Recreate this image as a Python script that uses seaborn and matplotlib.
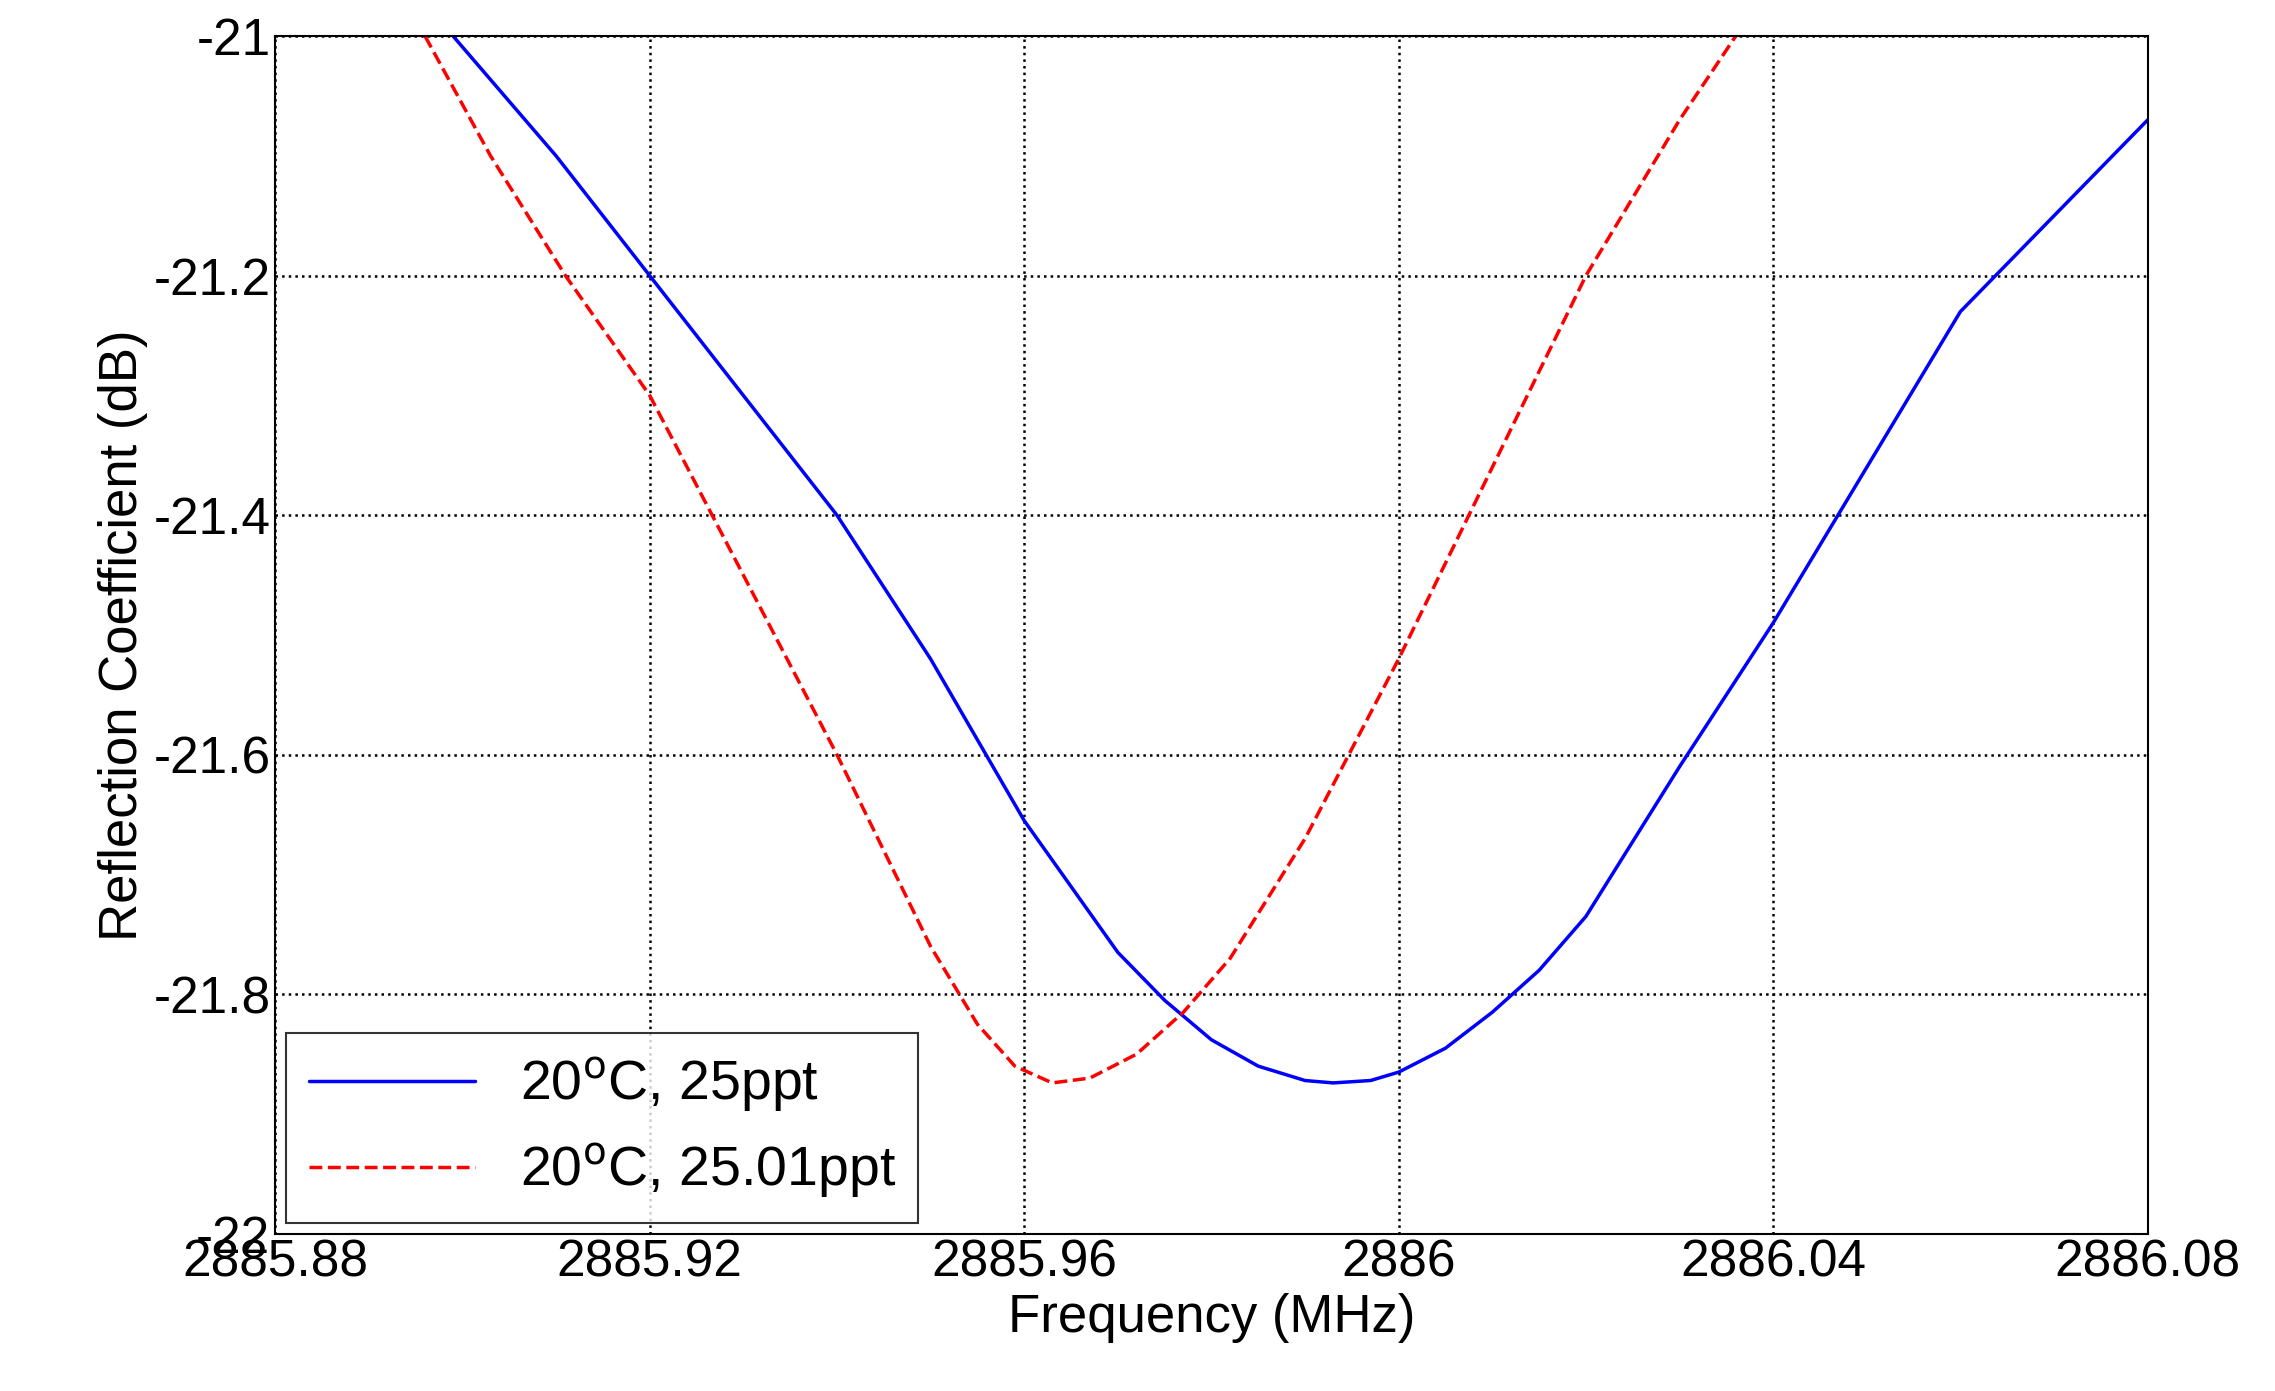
import matplotlib
matplotlib.use('Agg')
import matplotlib.pyplot as plt
import seaborn as sns
import pandas as pd

sns.set_style("white")
plt.rcParams["font.family"] = ["Liberation Sans", "DejaVu Sans"]

# ==== Data ====
freq_a = [2885.899, 2885.91, 2885.92, 2885.93, 2885.94, 2885.95, 2885.96, 2885.965,
          2885.97, 2885.975, 2885.98, 2885.985, 2885.99, 2885.993, 2885.997, 2886.0,
          2886.005, 2886.01, 2886.015, 2886.02, 2886.03, 2886.04,
          2886.05, 2886.06, 2886.07, 2886.08]
refl_a = [-21.0, -21.1, -21.2, -21.3, -21.4, -21.52, -21.655, -21.71,
          -21.765, -21.805, -21.838, -21.86, -21.872, -21.874, -21.872, -21.865,
          -21.845, -21.815, -21.78, -21.735, -21.61, -21.49,
          -21.36, -21.23, -21.15, -21.07]

freq_b = [2885.896, 2885.903, 2885.911, 2885.92, 2885.93, 2885.94, 2885.95, 2885.955,
          2885.959, 2885.963, 2885.967, 2885.972, 2885.977, 2885.982, 2885.99, 2886.0,
          2886.01, 2886.02, 2886.03, 2886.036]
refl_b = [-21.0, -21.1, -21.2, -21.3, -21.45, -21.6, -21.76, -21.825,
          -21.86, -21.874, -21.87, -21.85, -21.815, -21.77, -21.67, -21.52,
          -21.36, -21.2, -21.07, -21.0]

df_a = pd.DataFrame({"f": freq_a, "r": refl_a})
df_b = pd.DataFrame({"f": freq_b, "r": refl_b})

fig = plt.figure(figsize=(22.75, 13.91), dpi=100)
ax = fig.add_axes([0.121, 0.113, 0.823, 0.861])

sns.lineplot(data=df_a, x="f", y="r", ax=ax, color="blue", lw=2.5,
             label="20$^{\\mathrm{o}}$C, 25ppt", sort=False)
sns.lineplot(data=df_b, x="f", y="r", ax=ax, color="red", lw=2.5, ls="--",
             label="20$^{\\mathrm{o}}$C, 25.01ppt", sort=False)

ax.set_xlim(2885.88, 2886.08)
ax.set_ylim(-22, -21)
ax.set_xticks([2885.88, 2885.92, 2885.96, 2886.0, 2886.04, 2886.08])
ax.set_xticklabels(["2885.88", "2885.92", "2885.96", "2886", "2886.04", "2886.08"])
ax.set_yticks([-22, -21.8, -21.6, -21.4, -21.2, -21])
ax.set_yticklabels(["-22", "-21.8", "-21.6", "-21.4", "-21.2", "-21"])
ax.tick_params(labelsize=37, direction="in", length=8, colors="black")
ax.grid(True, color="black", ls=":", lw=1.8)
for s in ax.spines.values():
    s.set_color("black")
    s.set_linewidth(1.5)

ax.set_xlabel("Frequency (MHz)", fontsize=38, color="black")
ax.set_ylabel("Reflection Coefficient (dB)", fontsize=38, color="black")

leg = ax.legend(loc="lower left", fontsize=40, frameon=True, fancybox=False,
                borderaxespad=0.2, handlelength=3)
leg.get_frame().set_edgecolor("black")
leg.get_frame().set_linewidth(1.5)
for t in leg.get_texts():
    t.set_color("black")

fig.savefig("out.png", dpi=100)
